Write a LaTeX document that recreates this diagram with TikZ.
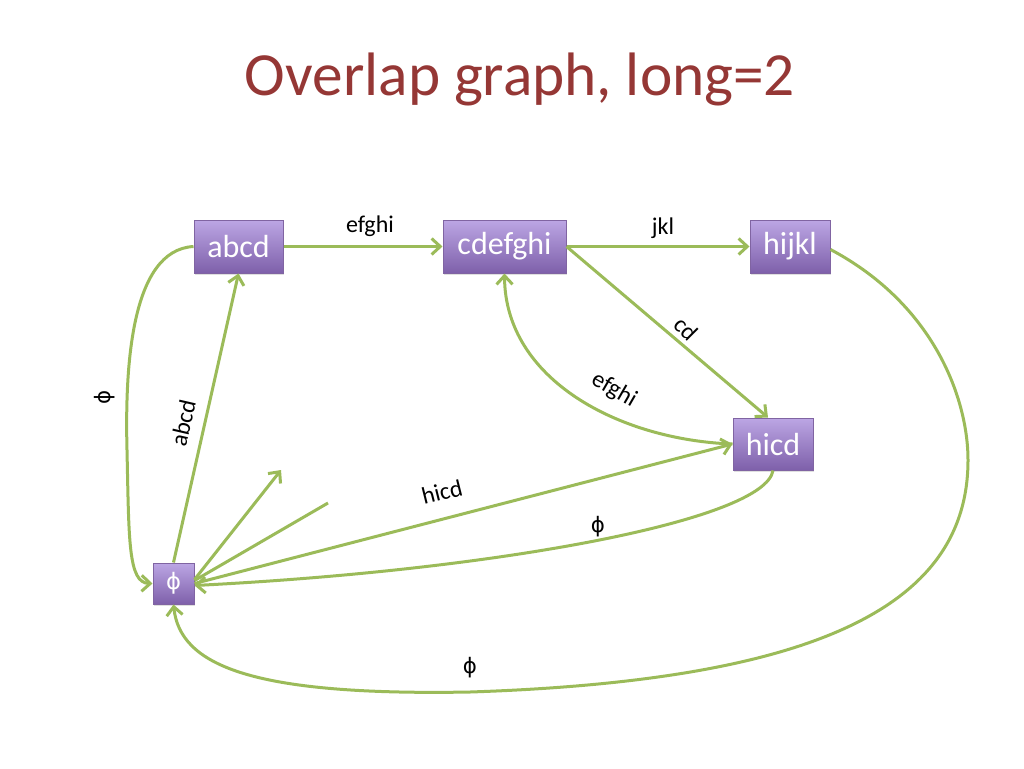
\documentclass[tikz,border=0pt]{standalone}
\usepackage{fontspec}
\setmainfont{Carlito}
\newfontfamily\phifont{DejaVu Sans}
\usetikzlibrary{arrows.meta,shadows,calc}
\definecolor{edgegreen}{RGB}{155,187,89}
\definecolor{titlered}{RGB}{149,55,53}
\definecolor{boxtop}{RGB}{188,166,228}
\definecolor{boxbot}{RGB}{126,96,170}
\definecolor{boxline}{RGB}{128,100,162}
\begin{document}
\begin{tikzpicture}[x=0.75pt,y=-0.75pt,
  box/.style={draw=boxline, line width=0.75pt, top color=boxtop, bottom color=boxbot,
    text=white, font=\fontsize{24}{28}\selectfont, inner sep=0pt, minimum height=39.75pt,
    drop shadow={opacity=0.25,shadow xshift=1pt,shadow yshift=-1.2pt}},
  edge/.style={draw=edgegreen, line width=2.25pt},
  arr/.style={edge, -{Straight Barb[length=6.5pt,width=12pt]}},
  lbl/.style={font=\fontsize{18}{22}\selectfont, text=black, inner sep=0pt},
  philbl/.style={font=\phifont\fontsize{16}{20}\selectfont, text=black, inner sep=0pt}]
\useasboundingbox (0,0) rectangle (1024,768);
\node[font=\fontsize{46}{52}\selectfont, text=titlered] (title) at (520,79) {Overlap graph, long=2};
% nodes
\node[box, minimum width=66.75pt] (abcd) at (238.5,246.5) {abcd};
\node[box, minimum width=92.25pt] (cdef) at (504.5,246.5) {cdefghi};
\node[box, minimum width=60pt] (hijkl) at (790,246.5) {hijkl};
\node[box, minimum width=60pt, minimum height=39pt] (hicd) at (773,444) {hicd};
\node[box, minimum width=30.75pt, minimum height=30.75pt, font=\phifont\fontsize{17}{20}\selectfont] (phi) at (173.5,583.5) {ϕ};
% edges
\draw[arr] (abcd.east) -- (cdef.west);
\node[lbl] (l1) at (370,226) {efghi};
\draw[arr] (cdef.east) -- (hijkl.west);
\node[lbl] (l2) at (663,228) {jkl};
\draw[arr] (cdef.east) -- ($(hicd.north)+(-5,0)$);
\node[lbl, rotate=-45] (l3) at (686,329) {cd};
\draw[arr] (hicd.west) .. controls (620,440) and (505,380) .. (cdef.south);
\node[lbl, rotate=-30] (l4) at (614,390) {efghi};
\draw[arr] (phi.east) -- (hicd.west);
\node[lbl, rotate=14] (l5) at (442,492) {hicd};
\coordinate (s1) at (281,470);
\coordinate (s2) at (328,503);
\draw[arr] ($(phi.east)+(0,-4)$) -- (s1);
\draw[edge] ($(phi.east)+(0,-3)$) -- (s2);
\draw[arr] (hicd.south) .. controls (765,520) and (500,570) .. ($(phi.east)+(0,2)$);
\node[philbl] (l6) at (598,527) {ϕ};
\draw[arr] ($(hijkl.east)+(0,3)$) .. controls (935,305) and (968,400) .. (968,460)
  .. controls (968,600) and (830,680) .. (470,692)
  .. controls (250,696) and (180,665) .. (phi.south);
\node[philbl] (l7) at (470,668) {ϕ};
\draw[arr] (abcd.west) .. controls (130,250) and (125,370) .. (127,450)
  .. controls (129,540) and (128,583) .. (phi.west);
\node[philbl, rotate=90] (l8) at (105,397) {ϕ};
\draw[arr] (phi.north) -- (abcd.south);
\node[lbl, rotate=77] (l9) at (183,423) {abcd};
\end{tikzpicture}
\end{document}
